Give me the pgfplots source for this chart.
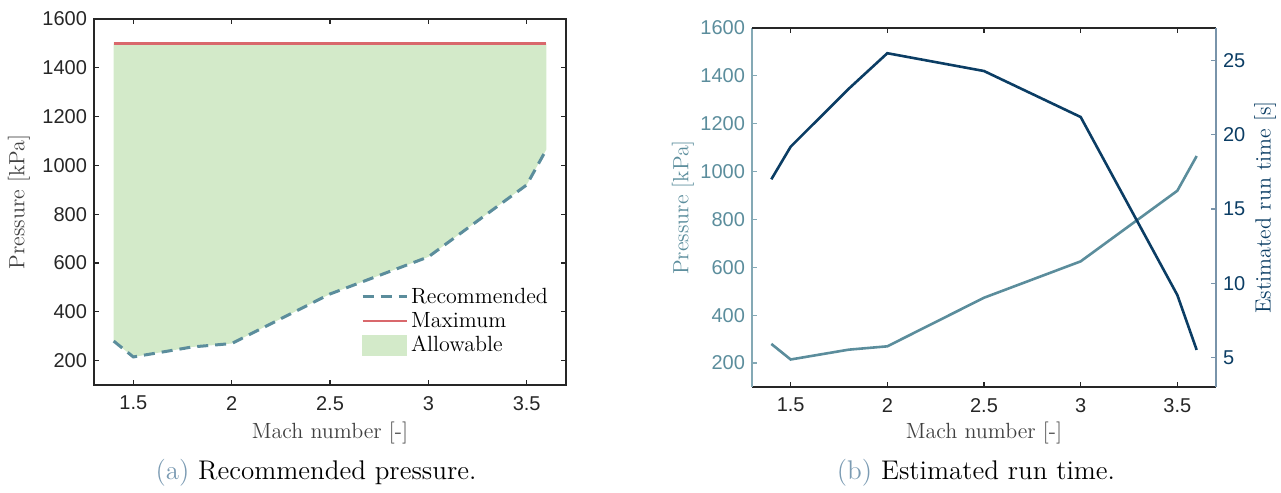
\documentclass[border=0pt]{standalone}
\usepackage{pgfplots}
\pgfplotsset{compat=1.18}
\usepackage{fontspec}
\newfontfamily\tickfont{Liberation Sans}
\definecolor{pcol}{HTML}{5B8D9C}
\definecolor{navy}{HTML}{0B3D64}
\definecolor{mred}{HTML}{D9686C}
\definecolor{gfill}{HTML}{D3EAC9}
\definecolor{axgrey}{HTML}{262626}
\definecolor{labgrey}{HTML}{404040}
\definecolor{capcol}{HTML}{7B9BB3}
\begin{document}
\begin{tikzpicture}
\useasboundingbox (0,0) rectangle (640.5pt,-246.5pt);
\pgfplotsset{
  mystyle/.style={
    scale only axis,
    xmin=1.3, xmax=3.7,
    xtick={1.5,2,2.5,3,3.5},
    scaled ticks=false,
    tick align=inside,
    /pgf/number format/1000 sep={},
    /pgf/number format/assume math mode=true,
    ticklabel style={font=\tickfont\fontsize{10}{12}\selectfont, color=axgrey},
    major tick length=2.5pt,
    tick style={line width=0.6pt, draw=axgrey},
    axis line style={line width=0.6pt, draw=axgrey},
    label style={font=\fontsize{11}{13}\selectfont, color=labgrey},
    xlabel style={at={(axis description cs:0.5,0)}, anchor=center, yshift=-24pt},
    xticklabel style={yshift=-2pt},
  }
}
% ---------------- left chart ----------------
\begin{axis}[mystyle,
  at={(47pt,-192.5pt)}, anchor=south west, width=236pt, height=183pt,
  ymin=100, ymax=1600, ytick={200,400,...,1600},
  xlabel={Mach number [-]}, ylabel={Pressure [kPa]},
  ylabel style={at={(axis description cs:-0.159,0.5)}, anchor=center},
  legend style={draw=none, fill=none, at={(axis description cs:0.565,0.275)}, anchor=north west,
    font=\fontsize{11}{13}\selectfont, inner sep=0pt, row sep=0pt,
    nodes={inner sep=1.5pt}},
  legend cell align=left,
  legend image code/.code={\draw[#1] (0pt,0pt) -- (22pt,0pt);},
]
\addplot[fill=gfill, draw=none, forget plot] coordinates {
  (1.4,280) (1.5,215) (1.8,256) (2.0,270) (2.5,473) (3.0,625) (3.5,920) (3.6,1065)
  (3.6,1500) (1.4,1500)};
\addplot[pcol, line width=1.5pt, dash pattern=on 5.5pt off 3.5pt] coordinates {
  (1.4,280) (1.5,215) (1.8,256) (2.0,270) (2.5,473) (3.0,625) (3.5,920) (3.6,1065)};
\addlegendentry{Recommended}
\addplot[mred, line width=1.4pt] coordinates {(1.4,1500) (3.6,1500)};
\addlegendentry{Maximum}
\addlegendimage{legend image code/.code={\fill[gfill] (0pt,-5pt) rectangle (22pt,5pt);}}
\addlegendentry{Allowable}
\end{axis}
\node[font=\fontsize{13.5}{16}\selectfont] at (158pt,-236.5pt) {\textcolor{capcol}{(a)} Recommended pressure.};
% ---------------- right chart ----------------
\begin{axis}[mystyle,
  at={(376pt,-193.5pt)}, anchor=south west, width=232pt, height=179.5pt,
  ymin=100, ymax=1600, ytick={200,400,...,1600},
  separate axis lines,
  xtick pos=both, ytick pos=left,
  y axis line style={draw=pcol!75!white},
  ytick style={draw=pcol!75!white},
  yticklabel style={color=pcol},
  xlabel={Mach number [-]}, ylabel={Pressure [kPa]},
  xlabel style={yshift=1pt},
  ylabel style={at={(axis description cs:-0.149,0.5)}, anchor=center, color=pcol},
]
\draw[axgrey, line width=0.7pt] (rel axis cs:0,1) -- (rel axis cs:1,1);
\addplot[pcol, line width=1.3pt] coordinates {
  (1.4,280) (1.5,215) (1.8,256) (2.0,270) (2.5,473) (3.0,625) (3.5,920) (3.6,1065)};
\end{axis}
\begin{axis}[mystyle,
  at={(376pt,-193.5pt)}, anchor=south west, width=232pt, height=179.5pt,
  ymin=3, ymax=27.2, ytick={5,10,...,25},
  axis x line=none, axis y line*=right,
  y axis line style={-, draw=navy!55!white},
  ytick style={draw=navy!55!white},
  yticklabel style={color=navy},
  ylabel={Estimated run time [s]},
  ylabel style={at={(axis description cs:1.106,0.5)}, anchor=center, color=navy},
]
\addplot[navy, line width=1.3pt] coordinates {
  (1.4,17.0) (1.5,19.2) (1.8,23.1) (2.0,25.5) (2.5,24.3) (3.0,21.2) (3.5,9.2) (3.6,5.5)};
\end{axis}
\node[font=\fontsize{13.5}{16}\selectfont] at (488pt,-236.5pt) {\textcolor{capcol}{(b)} Estimated run time.};
\end{tikzpicture}
\end{document}
